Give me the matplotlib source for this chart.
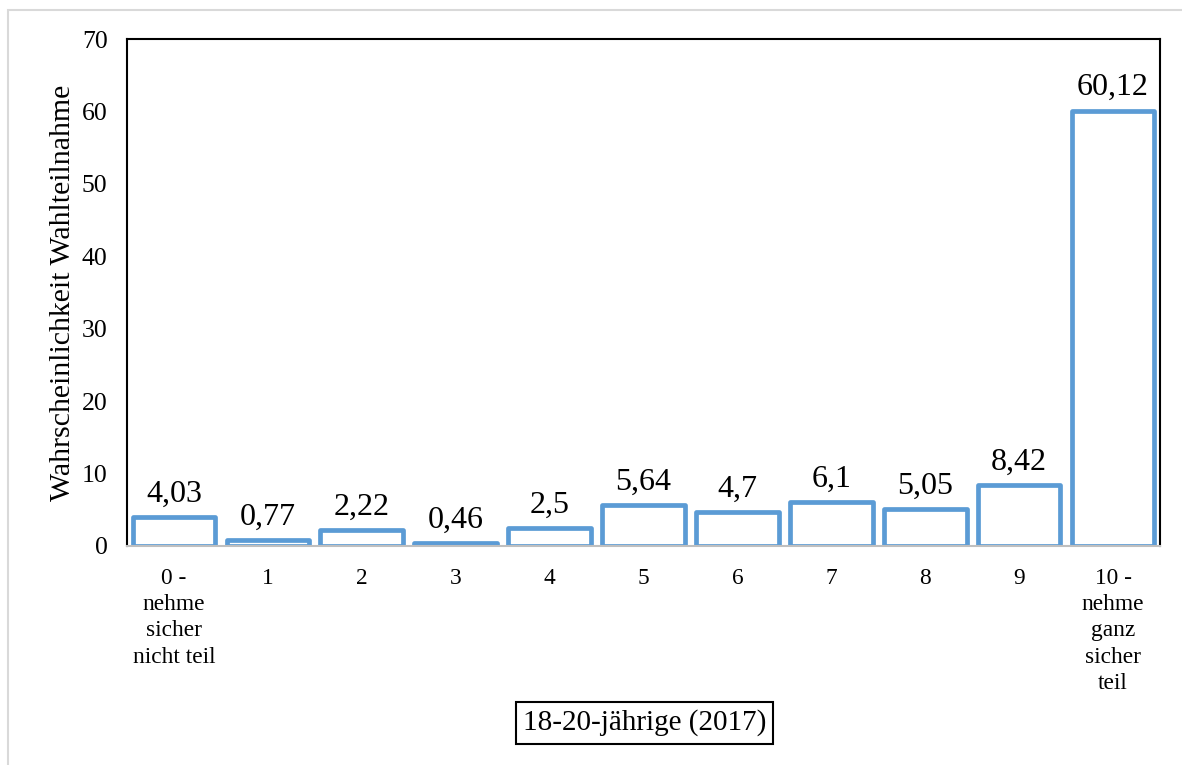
import matplotlib
matplotlib.use("Agg")
import matplotlib.pyplot as plt
from matplotlib.patches import Rectangle

plt.rcParams['font.family'] = ['Liberation Serif', 'DejaVu Serif']

categories = ["0 -\nnehme\nsicher\nnicht teil", "1", "2", "3", "4", "5", "6", "7", "8", "9",
              "10 -\nnehme\nganz\nsicher\nteil"]
values = [4.03, 0.77, 2.22, 0.46, 2.5, 5.64, 4.7, 6.1, 5.05, 8.42, 60.12]
value_labels = ["4,03", "0,77", "2,22", "0,46", "2,5", "5,64", "4,7", "6,1", "5,05", "8,42", "60,12"]
y_ticks = [0, 10, 20, 30, 40, 50, 60, 70]
y_label = "Wahrscheinlichkeit Wahlteilnahme"
series_name = "18-20-jährige (2017)"

bar_color = "#5B9BD5"

fig = plt.figure(figsize=(11.82, 7.65), dpi=100)
# light frame around the chart area (runs off the right and bottom edges)
fig.patches.append(Rectangle((8 / 1182, -0.1), 1.2, 1.1 - 10 / 765,
                             transform=fig.transFigure, fill=False,
                             edgecolor="#D9D9D9", linewidth=1.5, zorder=0))

ax = fig.add_axes([127 / 1182, 1 - 546 / 765, (1160 - 127) / 1182, (546 - 39) / 765])

x = list(range(len(categories)))
ax.bar(x, values, width=0.88, facecolor="white", edgecolor=bar_color,
       linewidth=3.4, joinstyle="round", zorder=2)

for xi, v, lab in zip(x, values, value_labels):
    ax.annotate(lab, (xi, v), xytext=(0, 6), textcoords="offset points",
                ha="center", va="bottom", fontsize=23, color="black")

ax.set_xlim(-0.5, len(categories) - 0.5)
ax.set_ylim(0, 70)
ax.set_yticks(y_ticks)
ax.set_xticks(x)
ax.set_xticklabels(categories, fontsize=16.8, linespacing=1.32, va="top")
ax.tick_params(axis="y", length=0, pad=14, labelsize=18.5)
ax.tick_params(axis="x", length=0, pad=16)

for side in ["left", "top", "right"]:
    ax.spines[side].set_color("black")
    ax.spines[side].set_linewidth(1.5)
ax.spines["bottom"].set_color("#BFBFBF")
ax.spines["bottom"].set_linewidth(1.5)
ax.spines["bottom"].set_zorder(3)

ax.set_ylabel(y_label, fontsize=21.5)
ax.yaxis.set_label_coords(-(127 - 76) / 1033, 0.5)

fig.text(644.5 / 1182, 1 - 723 / 765, series_name, ha="center", va="center",
         fontsize=21,
         bbox=dict(boxstyle="square,pad=0.25", facecolor="white",
                   edgecolor="black", linewidth=1.5))

fig.savefig("out.png", dpi=100)
